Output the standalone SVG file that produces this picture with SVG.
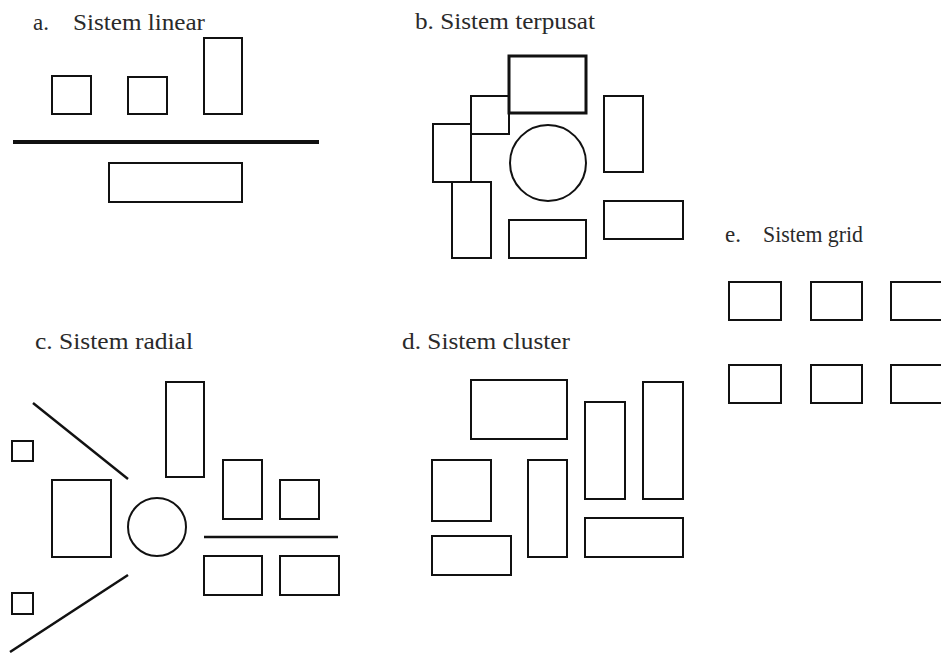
<svg xmlns="http://www.w3.org/2000/svg" width="941" height="653" viewBox="0 0 941 653">
<style>
text{font-family:"Liberation Serif","Times New Roman",serif;font-size:23px;fill:#2a2a2a}
.b{fill:none;stroke:#111;stroke-width:2}
.t{fill:none;stroke:#111;stroke-width:3}
.l{stroke:#111;stroke-width:2.5}
</style>
<rect width="941" height="653" fill="#fff"/>
<g id="a-linear">
<text x="33" y="30">a.</text>
<text x="73" y="30" textLength="132" lengthAdjust="spacingAndGlyphs">Sistem linear</text>
<rect class="b" x="52" y="76" width="39" height="38"/>
<rect class="b" x="128" y="77" width="39" height="37"/>
<rect class="b" x="204" y="38" width="38" height="76"/>
<line x1="13" y1="142" x2="319" y2="142" stroke="#111" stroke-width="4"/>
<rect class="b" x="109" y="163" width="133" height="39"/>
</g>
<g id="b-terpusat">
<text x="415" y="29" textLength="180" lengthAdjust="spacingAndGlyphs">b. Sistem terpusat</text>
<rect class="t" x="509" y="56" width="77" height="57"/>
<rect class="b" x="471" y="96" width="38" height="38"/>
<rect class="b" x="433" y="124" width="38" height="58"/>
<rect class="b" x="452" y="182" width="39" height="76"/>
<circle class="b" cx="548" cy="163" r="38"/>
<rect class="b" x="604" y="96" width="39" height="76"/>
<rect class="b" x="509" y="220" width="77" height="38"/>
<rect class="b" x="604" y="201" width="79" height="38"/>
</g>
<g id="e-grid">
<text x="725" y="242">e.</text>
<text x="763" y="242" textLength="100" lengthAdjust="spacingAndGlyphs">Sistem grid</text>
<rect class="b" x="729" y="282" width="52" height="38"/>
<rect class="b" x="811" y="282" width="51" height="38"/>
<rect class="b" x="891" y="282" width="52" height="38"/>
<rect class="b" x="729" y="365" width="52" height="38"/>
<rect class="b" x="811" y="365" width="51" height="38"/>
<rect class="b" x="891" y="365" width="52" height="38"/>
</g>
<g id="c-radial">
<text x="35" y="349" textLength="158" lengthAdjust="spacingAndGlyphs">c. Sistem radial</text>
<line class="l" x1="33" y1="403" x2="128" y2="479"/>
<rect class="b" x="12" y="441" width="21" height="20"/>
<rect class="b" x="52" y="480" width="59" height="77"/>
<circle class="b" cx="157" cy="527" r="29"/>
<rect class="b" x="166" y="382" width="38" height="95"/>
<rect class="b" x="223" y="460" width="39" height="59"/>
<rect class="b" x="280" y="480" width="39" height="39"/>
<line class="l" x1="204" y1="537" x2="338" y2="537"/>
<rect class="b" x="204" y="556" width="58" height="39"/>
<rect class="b" x="280" y="556" width="59" height="39"/>
<line class="l" x1="128" y1="575" x2="10" y2="652"/>
<rect class="b" x="12" y="593" width="21" height="21"/>
</g>
<g id="d-cluster">
<text x="402" y="349" textLength="168" lengthAdjust="spacingAndGlyphs">d. Sistem cluster</text>
<rect class="b" x="471" y="380" width="96" height="59"/>
<rect class="b" x="585" y="402" width="40" height="97"/>
<rect class="b" x="643" y="382" width="40" height="117"/>
<rect class="b" x="432" y="460" width="59" height="61"/>
<rect class="b" x="528" y="460" width="39" height="97"/>
<rect class="b" x="432" y="536" width="79" height="39"/>
<rect class="b" x="585" y="518" width="98" height="39"/>
</g>
</svg>
